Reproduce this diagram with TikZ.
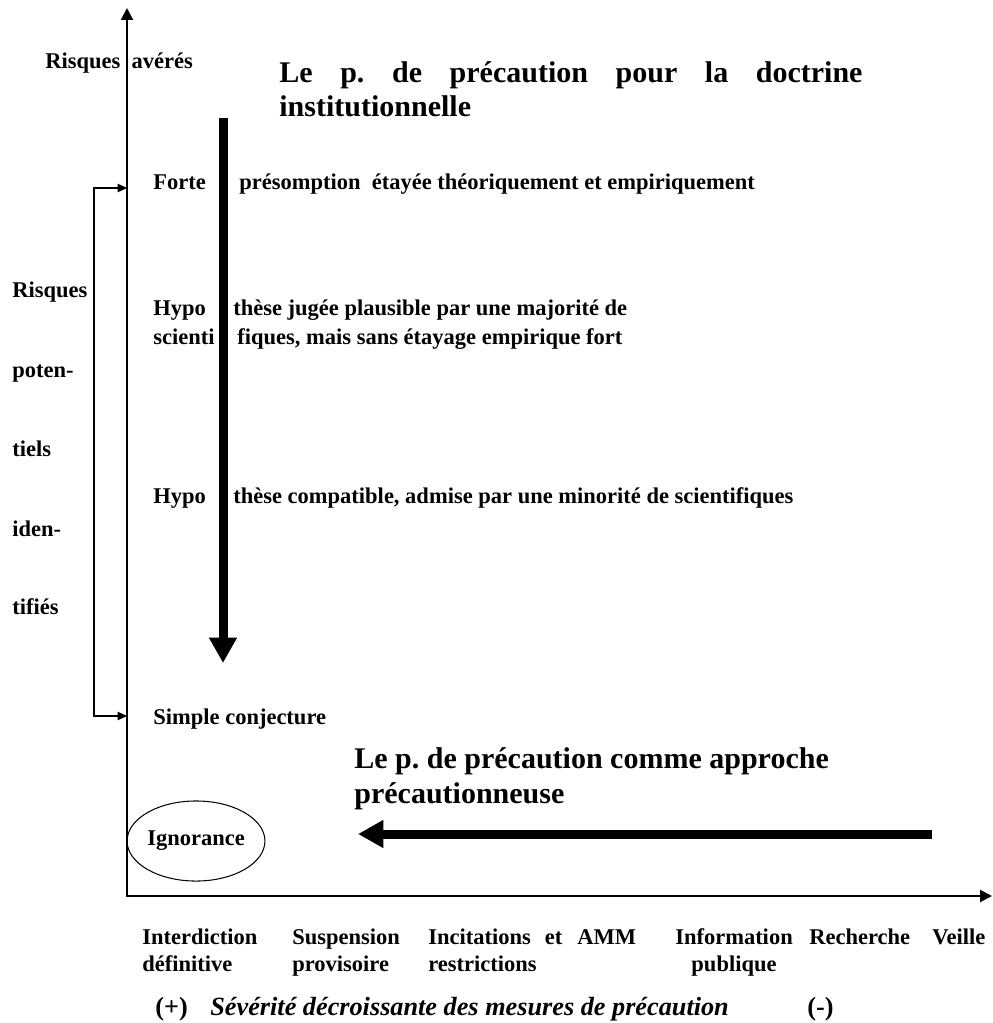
\documentclass[tikz,border=0pt]{standalone}
\usepackage{fontspec}
\setmainfont{Liberation Serif}
\frenchspacing
\usepackage{tikz}
\usetikzlibrary{arrows.meta,shapes.geometric}
\tikzset{
  axis/.style={line width=1.1pt, {Triangle[length=6.4pt,width=6.4pt]}-{Triangle[length=6.4pt,width=6.4pt]}},
  bigarrow/.style={line width=4.8pt, -{Triangle[length=13.5pt,width=14pt]}},
  bracketarrow/.style={line width=0.55pt, {Triangle[length=5pt,width=4.5pt]}-{Triangle[length=5pt,width=4.5pt]}},
  txt/.style={inner sep=0pt, anchor=base west, font=\fontsize{12}{15}\selectfont\bfseries},
  bigtxt/.style={inner sep=0pt, anchor=base west, font=\fontsize{14}{16}\selectfont\bfseries},
  title/.style={inner sep=0pt, anchor=base west, font=\fontsize{16}{18}\selectfont\bfseries}
}

\begin{document}
\begin{tikzpicture}[x=0.5333pt,y=0.5333pt]
            \useasboundingbox (0,0) rectangle (992,-1023);
            % coordinates for the axes and arrows
            \coordinate (O) at (127,-896);
            \coordinate (Ytop) at (127,-8);
            \coordinate (Xend) at (992,-896);
            \coordinate (F) at (127,-188);
            \coordinate (S) at (127,-716);
            \coordinate (Bt) at (94,-188);
            \coordinate (Bb) at (94,-716);
            \coordinate (Vtop) at (223,-118);
            \coordinate (Vbot) at (223,-663);
            \coordinate (Hr) at (932,-834);
            \coordinate (Hl) at (358,-834);

            % axes
            \draw[axis] (Ytop) -- (O) -- (Xend);

            % bracket of the potential risks
            \draw[bracketarrow] (F) -- (Bt) -- (Bb) -- (S);

            % the two thick arrows
            \draw[bigarrow] (Vtop) -- (Vbot);
            \draw[bigarrow] (Hr) -- (Hl);

            % titles
            \node[title] (T1a) at (279,-83) {\makebox[311pt][s]{Le p. de précaution pour la doctrine}};
            \node[title] (T1b) at (279,-117) {institutionnelle};
            \node[title] (T2a) at (354,-768) {Le p. de précaution comme approche};
            \node[title] (T2b) at (354,-803) {précautionneuse};

            % levels along the vertical axis
            \node[txt] (RA) at (45,-69) {Risques\hspace{0.5em}avérés};
            \node[txt] (F1) at (153,-190) {Forte};
            \node[txt] (F2) at (239,-190) {présomption\ \ étayée théoriquement et empiriquement};
            \node[txt] (H1a) at (153,-315) {Hypo};
            \node[txt] (H1b) at (153,-344) {scienti};
            \node[txt] (H2a) at (233,-315) {thèse jugée plausible par une majorité de};
            \node[txt] (H2b) at (237,-344) {fiques, mais sans étayage empirique fort};
            \node[txt] (C1) at (153,-503) {Hypo};
            \node[txt] (C2) at (233,-503) {thèse compatible, admise par une minorité de scientifiques};
            \node[txt] (SC) at (153,-724) {Simple conjecture};
            \node[draw, ellipse, line width=0.55pt, minimum width=72.5pt, minimum height=42.7pt, inner sep=0pt, font=\fontsize{12}{15}\selectfont\bfseries] (IG) at (196,-841) {Ignorance};

            % potential risks on the left
            \node[txt] (R1) at (12,-297) {Risques};
            \node[txt] (R2) at (12,-377) {poten-};
            \node[txt] (R3) at (12,-456) {tiels};
            \node[txt] (R4) at (12,-536) {iden-};
            \node[txt] (R5) at (12,-614) {tifiés};

            % measures along the horizontal axis
            \node[txt] (M1a) at (142,-944) {Interdiction};
            \node[txt] (M1b) at (142,-971) {définitive};
            \node[txt] (M2a) at (292,-944) {Suspension};
            \node[txt] (M2b) at (292,-971) {provisoire};
            \node[txt] (M3a) at (428,-944) {Incitations\hspace{7.5pt}et\hspace{8pt}AMM};
            \node[txt] (M3b) at (428,-971) {restrictions};
            \node[txt, anchor=base] (M4a) at (734,-944) {Information};
            \node[txt, anchor=base] (M4b) at (734,-971) {publique};
            \node[txt] (M5) at (809,-944) {Recherche};
            \node[txt] (M6) at (932,-944) {Veille};

            % severity line
            \node[bigtxt] (PL) at (155,-1015) {(+)};
            \node[bigtxt, font=\fontsize{14}{16}\selectfont\bfseries\itshape] (SEV) at (210,-1015) {Sévérité décroissante des mesures de précaution};
            \node[bigtxt] (MI) at (807,-1015) {(-)};
\end{tikzpicture}
\end{document}
